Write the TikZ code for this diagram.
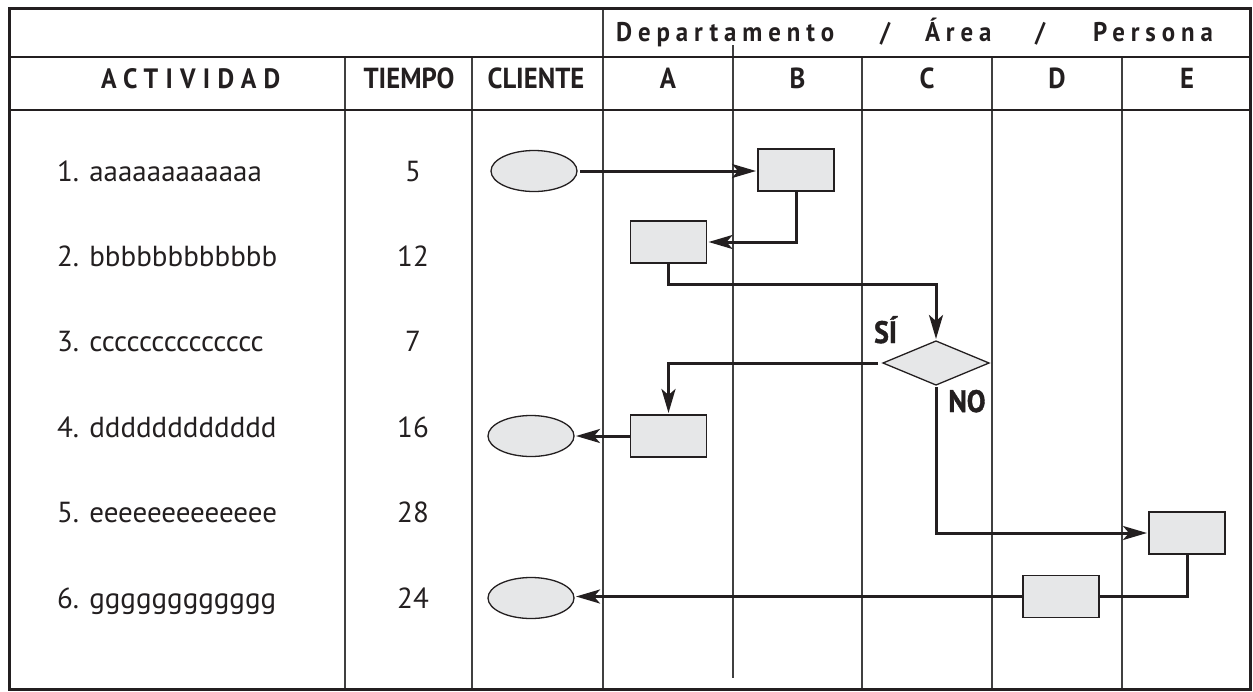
\documentclass[tikz,border=0pt]{standalone}
\usepackage{fontspec}
\setmainfont{PT Sans}
\newfontfamily\condfont[FakeStretch=0.92]{PT Sans}
\newfontfamily\heavyfont[FakeStretch=0.9,FakeBold=1.2]{PT Sans}
\newfontfamily\spacedfont[FakeStretch=0.92,LetterSpace=22]{PT Sans}
\usetikzlibrary{shapes.geometric,arrows.meta}
\definecolor{ink}{HTML}{231F20}
\definecolor{boxgray}{HTML}{E6E7E8}
\definecolor{gridc}{HTML}{404040}
\begin{document}
\begin{tikzpicture}[x=1pt,y=-1pt,
  every node/.style={inner sep=0pt, outer sep=0pt, text=ink},
  proc/.style={draw=ink, line width=1.3pt, fill=boxgray, minimum width=76pt, minimum height=42pt},
  term/.style={ellipse, draw=ink, line width=1.3pt, fill=boxgray, minimum width=86pt, minimum height=41pt},
  decis/.style={diamond, draw=ink, line width=1.3pt, fill=boxgray, minimum width=106pt, minimum height=44pt},
  flow/.style={draw=ink, line width=3pt},
  arr/.style={flow, -{Stealth[length=24pt,width=14pt,inset=6pt]}, shorten >=2pt},
  gridline/.style={draw=gridc, line width=1.3pt},
  rowline/.style={draw=ink, line width=2pt},
  rowtxt/.style={anchor=base west, font=\fontsize{29}{32}\selectfont},
  numtxt/.style={anchor=base, font=\fontsize{29}{32}\selectfont},
  hdr/.style={anchor=base, font=\condfont\bfseries\fontsize{29}{32}\selectfont},
  shdr/.style={anchor=base west, font=\spacedfont\bfseries\fontsize{27}{32}\selectfont},
  lbl/.style={anchor=base, font=\heavyfont\bfseries\fontsize{31}{34}\selectfont},
]
\useasboundingbox (0,0) rectangle (1253,691);
% grid
\draw[gridline] (345,57) -- (345,689);
\draw[gridline] (472,57) -- (472,689);
\draw[gridline] (603,8) -- (603,689);
\draw[gridline] (733,45) -- (733,678);
\draw[gridline] (862,57) -- (862,689);
\draw[gridline] (992,57) -- (992,689);
\draw[gridline] (1122,57) -- (1122,689);
\draw[rowline] (9,57) -- (1250,57);
\draw[rowline] (9,110) -- (1250,110);
\draw[draw=ink, line width=3pt] (9,8) rectangle (1250,689);
% headers
\node[shdr] (hdep) at (616,41) {Departamento};
\node[shdr] (hs1) at (880,41) {/};
\node[shdr] (hare) at (925,41) {Área};
\node[shdr] (hs2) at (1035,41) {/};
\node[shdr] (hper) at (1093,41) {Persona};
\node[shdr, font=\spacedfont\bfseries\fontsize{28}{32}\selectfont\addfontfeature{LetterSpace=26}] (hact) at (101,88) {ACTIVIDAD};
\node[hdr] (htie) at (409,88) {TIEMPO};
\node[hdr] (hcli) at (536,88) {CLIENTE};
\node[hdr] (ha) at (668,88) {A};
\node[hdr] (hb) at (797.5,88) {B};
\node[hdr] (hc) at (927,88) {C};
\node[hdr] (hd) at (1057,88) {D};
\node[hdr] (he) at (1187,88) {E};
% rows
\node[rowtxt] (r1) at (57,181) {1. aaaaaaaaaaaa};
\node[rowtxt] (r2) at (57,266) {2. bbbbbbbbbbbb};
\node[rowtxt] (r3) at (57,351.5) {3. cccccccccccccc};
\node[rowtxt] (r4) at (57,437) {4. dddddddddddd};
\node[rowtxt] (r5) at (57,522.5) {5. eeeeeeeeeeeee};
\node[rowtxt] (r6) at (57,608) {6. gggggggggggg};
\node[numtxt] (t1) at (413,181) {5};
\node[numtxt] (t2) at (413,266) {12};
\node[numtxt] (t3) at (413,351.5) {7};
\node[numtxt] (t4) at (413,437) {16};
\node[numtxt] (t5) at (413,522.5) {28};
\node[numtxt] (t6) at (413,608) {24};
% shapes
\node[term] (e1) at (534,171) {};
\node[term] (e4) at (531,436) {};
\node[term] (e6) at (531,598) {};
\node[proc] (b1) at (796,170) {};
\node[proc] (a2) at (668.5,242) {};
\node[proc] (a4) at (668.5,436) {};
\node[proc] (e5) at (1187,533) {};
\node[proc] (d6) at (1061,596.5) {};
\node[decis] (dec) at (936,363) {};
\node[lbl] (lsi) at (885.5,343) {SÍ};
\node[lbl] (lno) at (967,412) {NO};
% connectors
\draw[arr, shorten <=3pt] (e1.east) -- (e1.east -| b1.west);
\draw[arr] (b1.south) |- (a2.east);
\draw[arr] (a2.south) -- ++(0,21) -| (dec.north);
\draw[arr, shorten <=5pt] (dec.west) -| (a4.north);
\draw[arr] (a4.west) -- (e4.east);
\draw[arr, shorten <=2pt] (dec.south) |- (e5.west);
\draw[flow] (e5.south) |- (d6.east);
\draw[arr] (d6.west) -- (d6.west -| e6.east);
\end{tikzpicture}
\end{document}
